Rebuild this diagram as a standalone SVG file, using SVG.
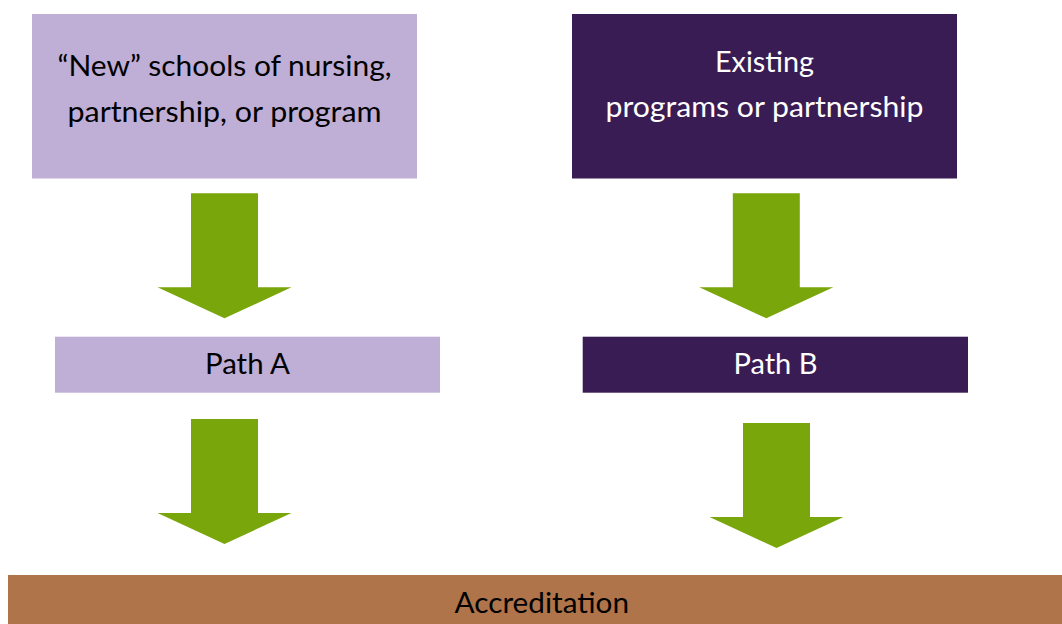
<svg xmlns="http://www.w3.org/2000/svg" xmlns:xlink="http://www.w3.org/1999/xlink" width="1062" height="624" viewBox="0 0 1062 624">
  <style>
    .light { fill: #BFAED6; }
    .dark { fill: #3A1C54; }
    .brown { fill: #B0744B; }
    .arrow { fill: #79A70B; }
    text { font-family: Lato, "Open Sans", "Liberation Sans", sans-serif; font-size: 29px; text-anchor: middle; }
    .tdark { fill: #000000; }
    .tlight { fill: #FFFFFF; }
  </style>
  <defs>
    <path id="blockArrow" d="M -33.5 0 L 33.5 0 L 33.5 94 L 67 94 L 0 125 L -67 94 L -33.5 94 Z"/>
  </defs>
  <rect width="1062" height="624" fill="#FFFFFF"/>

  <g id="connectors">
    <use xlink:href="#blockArrow" href="#blockArrow" class="arrow" transform="translate(224.5,193.3)"/>
    <use xlink:href="#blockArrow" href="#blockArrow" class="arrow" transform="translate(766.3,193.3)"/>
    <use xlink:href="#blockArrow" href="#blockArrow" class="arrow" transform="translate(224.5,419)"/>
    <use xlink:href="#blockArrow" href="#blockArrow" class="arrow" transform="translate(776.5,423)"/>
  </g>

  <g id="node-new">
    <rect class="light" x="32" y="14" width="385" height="164.5"/>
    <text class="tdark" x="224.5" y="76" textLength="334" lengthAdjust="spacingAndGlyphs">“New” schools of nursing,</text>
    <text class="tdark" x="224.5" y="121.7" textLength="314" lengthAdjust="spacingAndGlyphs">partnership, or program</text>
  </g>

  <g id="node-existing">
    <rect class="dark" x="572" y="14" width="385" height="164.5"/>
    <text class="tlight" x="764.5" y="72.3" textLength="99" lengthAdjust="spacingAndGlyphs">Existing</text>
    <text class="tlight" x="764.5" y="117.3" textLength="318" lengthAdjust="spacingAndGlyphs">programs or partnership</text>
  </g>

  <g id="node-path-a">
    <rect class="light" x="55" y="336.7" width="385" height="56"/>
    <text class="tdark" x="247.5" y="374" textLength="85" lengthAdjust="spacingAndGlyphs">Path A</text>
  </g>

  <g id="node-path-b">
    <rect class="dark" x="582.7" y="336.7" width="385.3" height="56"/>
    <text class="tlight" x="775.5" y="374" textLength="84" lengthAdjust="spacingAndGlyphs">Path B</text>
  </g>

  <g id="node-accreditation">
    <rect class="brown" x="8" y="575" width="1054" height="49"/>
    <text class="tdark" x="541.8" y="613.3" textLength="174.5" lengthAdjust="spacingAndGlyphs">Accreditation</text>
  </g>
</svg>
